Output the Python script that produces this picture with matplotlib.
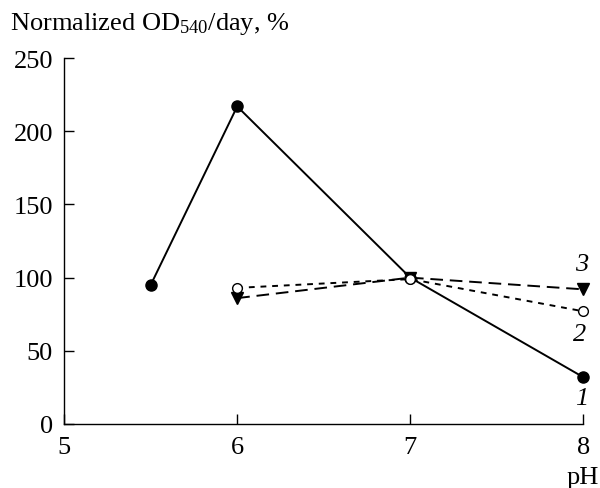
import matplotlib
matplotlib.use("Agg")
import matplotlib.pyplot as plt

plt.rcParams['font.family'] = ['Liberation Serif', 'DejaVu Serif']
plt.rcParams['mathtext.fontset'] = 'custom'
plt.rcParams['mathtext.rm'] = 'Liberation Serif'
plt.rcParams['mathtext.it'] = 'Liberation Serif:italic'

ph1 = [5.5, 6, 7, 8]
s1 = [95, 217, 100, 32]
ph2 = [6, 7, 8]
s2 = [93, 99, 77]
ph3 = [6, 7, 8]
s3 = [86, 100, 92]
xticks = [5, 6, 7, 8]
yticks = [0, 50, 100, 150, 200, 250]

fig = plt.figure(figsize=(6.0, 4.89), dpi=100)
ax = fig.add_axes([0.107, 0.131, 0.865, 0.748])

ax.plot(ph1, s1, color='black', lw=1.4, marker='o', ms=8, mfc='black', mec='black', zorder=3, clip_on=False)
ax.plot(ph2, s2, color='black', lw=1.4, ls=(0, (3, 3)), marker='o', ms=7, mfc='white', mec='black', zorder=4, clip_on=False)
ax.plot(ph3, s3, color='black', lw=1.4, ls=(0, (6.5, 3.5)), marker='v', ms=8, mfc='black', mec='black', zorder=2, clip_on=False)

ax.set_xlim(5, 8)
ax.set_ylim(0, 250)
ax.set_xticks(xticks)
ax.set_yticks(yticks)
ax.tick_params(direction='in', length=7, width=1, labelsize=19)
ax.tick_params(axis='x', pad=9)
ax.tick_params(axis='y', pad=8)
for s in ['top', 'right']:
    ax.spines[s].set_visible(False)
for s in ['left', 'bottom']:
    ax.spines[s].set_linewidth(1)

ax.text(7.99, 109, '3', style='italic', fontsize=19, ha='center', va='center', clip_on=False)
ax.text(7.98, 61.5, '2', style='italic', fontsize=19, ha='center', va='center', clip_on=False)
ax.text(7.99, 18, '1', style='italic', fontsize=19, ha='center', va='center', clip_on=False)

fig.text(10/600, 1 - 24/489, r'Normalized OD$_{540}$/day, %', fontsize=19, ha='left', va='center')
fig.text(583/600, 1 - 478/489, 'pH', fontsize=19, ha='center', va='center')

fig.savefig('out.png', dpi=100)
